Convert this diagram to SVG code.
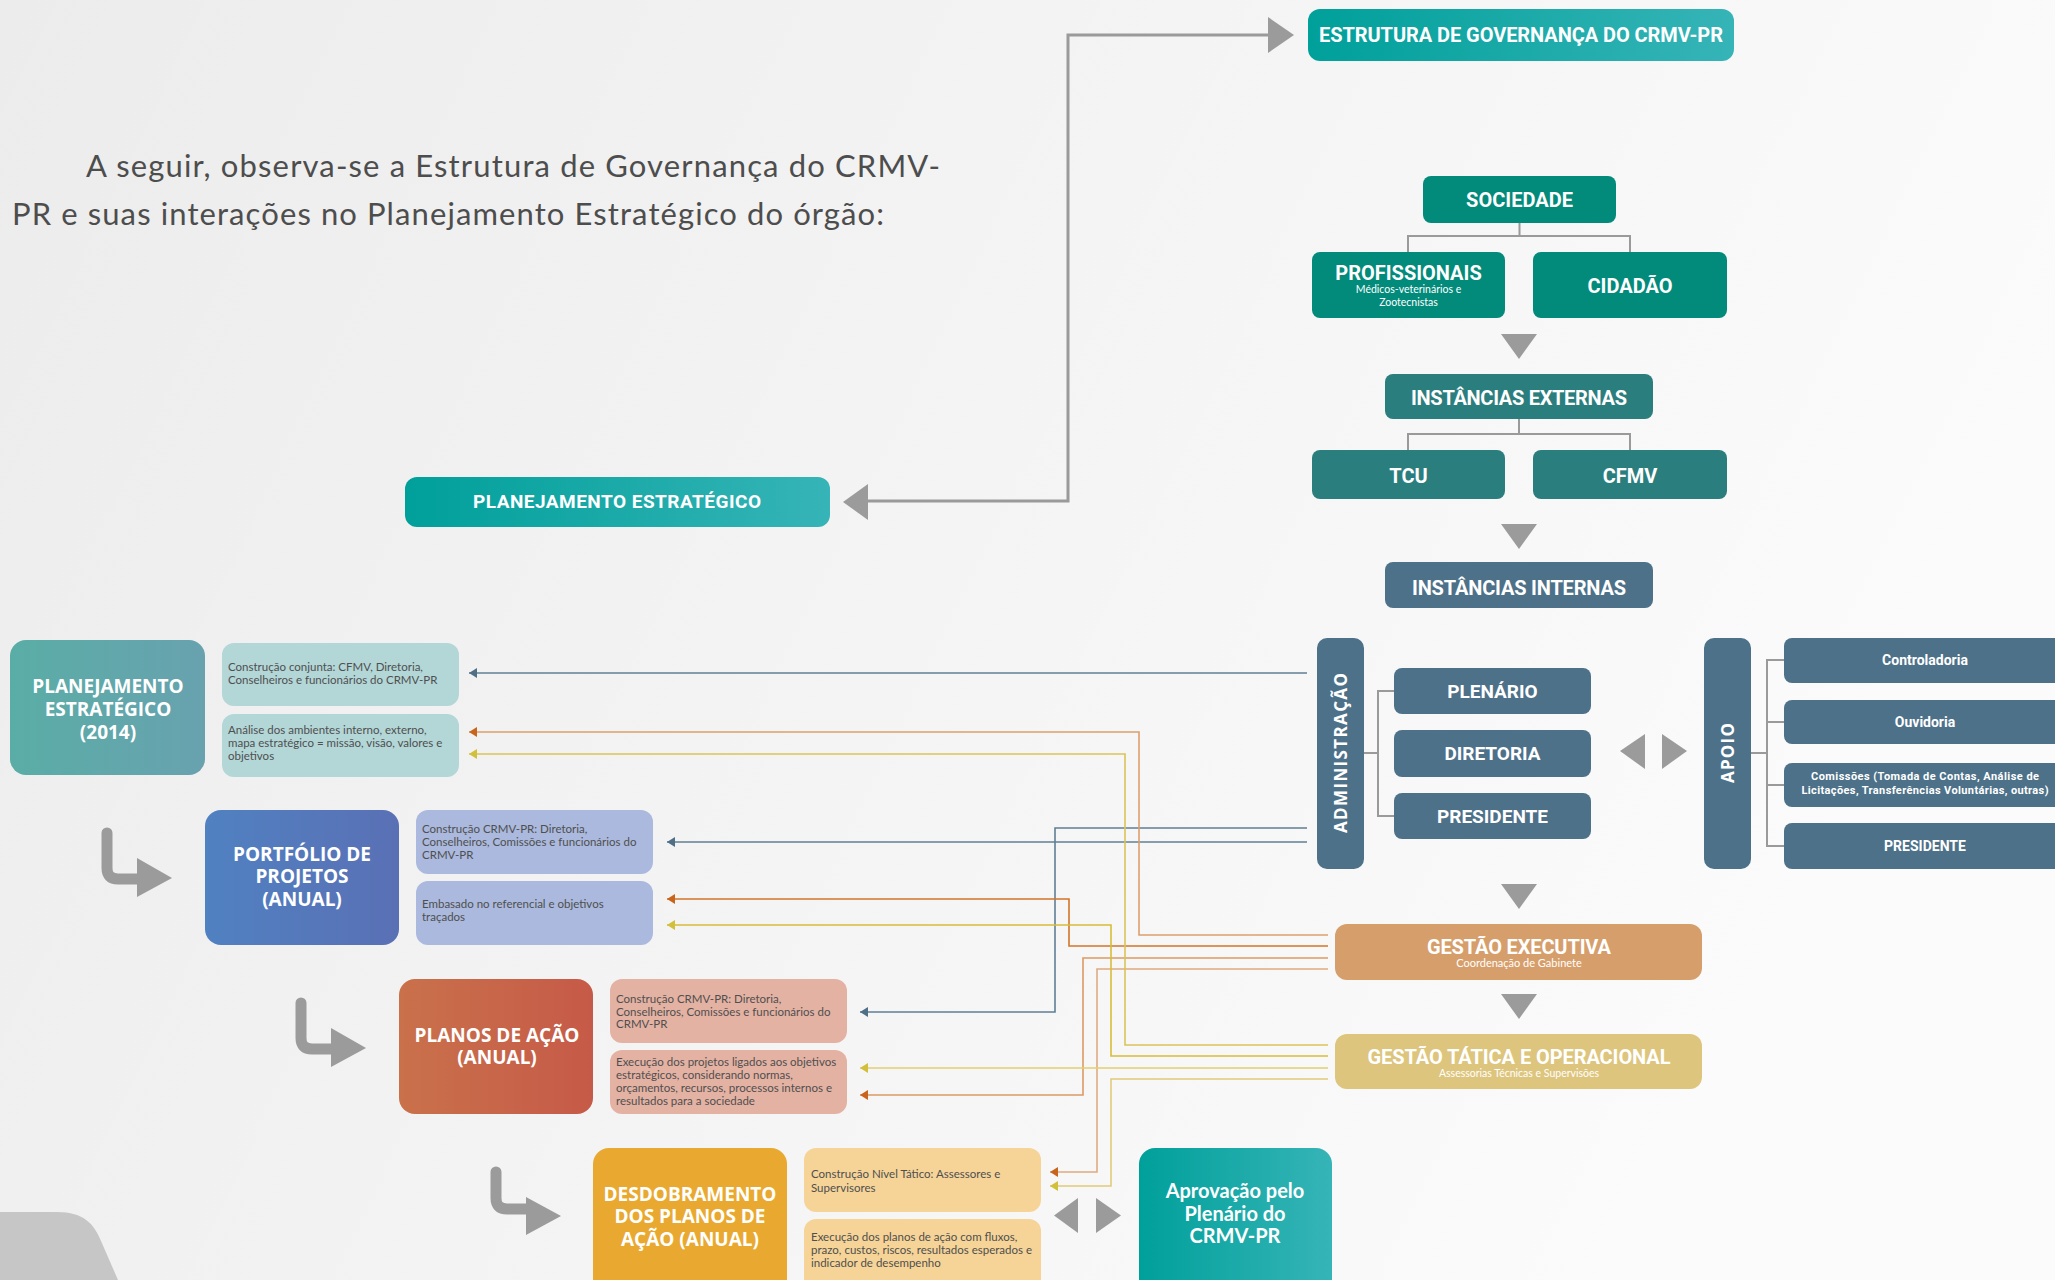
<svg xmlns="http://www.w3.org/2000/svg" width="2055" height="1280" viewBox="0 0 2055 1280">
<defs>
<linearGradient id="bg" x1="0" y1="0" x2="1" y2="0.3">
<stop offset="0" stop-color="#ececec"/><stop offset="0.6" stop-color="#f5f5f5"/><stop offset="1" stop-color="#fbfbfb"/>
</linearGradient>
<linearGradient id="gTeal" x1="0" y1="0" x2="1" y2="0"><stop offset="0" stop-color="#00a09a"/><stop offset="1" stop-color="#36b4b7"/></linearGradient>
<linearGradient id="gPlan" x1="0" y1="0" x2="1" y2="0"><stop offset="0" stop-color="#5aada6"/><stop offset="1" stop-color="#68a2af"/></linearGradient>
<linearGradient id="gPort" x1="0" y1="0" x2="1" y2="0"><stop offset="0" stop-color="#5081c1"/><stop offset="1" stop-color="#5a70b5"/></linearGradient>
<linearGradient id="gAcao" x1="0" y1="0" x2="1" y2="0"><stop offset="0" stop-color="#c9714b"/><stop offset="1" stop-color="#c65a48"/></linearGradient>
<marker id="mBlue" markerUnits="userSpaceOnUse" markerWidth="9" markerHeight="10" refX="8" refY="5" orient="auto"><path d="M0,0 L8,5 L0,10 z" fill="#4f6f86"/></marker>
<marker id="mOrange" markerUnits="userSpaceOnUse" markerWidth="9" markerHeight="10" refX="8" refY="5" orient="auto"><path d="M0,0 L8,5 L0,10 z" fill="#c8641c"/></marker>
<marker id="mYellow" markerUnits="userSpaceOnUse" markerWidth="9" markerHeight="10" refX="8" refY="5" orient="auto"><path d="M0,0 L8,5 L0,10 z" fill="#d2bf3a"/></marker>
<style>
.bold{font-family:Roboto,"Liberation Sans",sans-serif;font-weight:700;fill:#fff;text-anchor:middle}
.geo{font-family:"Open Sans","Liberation Sans",sans-serif;font-weight:700;fill:#fff;text-anchor:middle}
.lato{font-family:Lato,"Liberation Sans",sans-serif;font-weight:700;fill:#fff;text-anchor:middle}
.det{font-family:Lato,"Open Sans","Liberation Sans",sans-serif;font-size:11.5px;fill:#4f4f4f}
.sub{font-family:Lato,"Liberation Sans",sans-serif;fill:#fff;text-anchor:middle}
.intro{font-family:Lato,"Open Sans","Liberation Sans",sans-serif;font-weight:400;font-size:31px;fill:#4d4d4d}
.soc{fill:#028a7a}
.ext{fill:#2b7e7e}
.int{fill:#4d7189}
.tri{fill:#9b9b9b}
.brk{fill:none;stroke:#9a9a9a;stroke-width:2}
.icon{fill:none;stroke:#9b9b9b;stroke-width:11;stroke-linecap:round;stroke-linejoin:round}
.c{fill:none;stroke-width:1.6}
.cb{stroke:#5f7f95}
.co1{stroke:#dba06e}
.co2{stroke:#d2762a}
.co3{stroke:#dc9a64}
.co4{stroke:#e0ab80}
.cy1{stroke:#dbc358}
.cy2{stroke:#d6bd3a}
.cy3{stroke:#e3cf70}
.cy4{stroke:#e0cb7a}
</style>
</defs>

<rect x="0" y="0" width="2055" height="1280" fill="url(#bg)"/>
<path d="M0,1212 H57 C84,1212 94,1224 101,1241 L118,1280 H0 Z" fill="#c6c6c6"/>

<g id="intro">
<text x="86" y="177" class="intro" textLength="854">A seguir, observa-se a Estrutura de Governança do CRMV-</text>
<text x="12" y="225" class="intro" textLength="872">PR e suas interações no Planejamento Estratégico do órgão:</text>
</g>

<g id="link-governanca">
<path d="M1270,35 H1068 V501 H866" fill="none" stroke="#9a9a9a" stroke-width="3"/>
<polygon points="1268,17 1294,35 1268,53" class="tri"/>
<polygon points="868,484 843,502 868,520" class="tri"/>
</g>

<g id="estrutura">
<rect x="1308" y="9" width="426" height="52" rx="12" fill="url(#gTeal)"/>
<text x="1521" y="42" class="bold" font-size="20" textLength="404">ESTRUTURA DE GOVERNANÇA DO CRMV-PR</text>
</g>

<g id="planejamento-top">
<rect x="405" y="477" width="425" height="50" rx="12" fill="url(#gTeal)"/>
<text x="617" y="508" class="bold" font-size="19" textLength="288">PLANEJAMENTO ESTRATÉGICO</text>
</g>

<g id="sociedade">
<rect x="1423" y="176" width="193" height="47" rx="8" class="soc"/>
<text x="1519.5" y="207" class="bold" font-size="20">SOCIEDADE</text>
</g>
<g id="profissionais">
<rect x="1312" y="252" width="193" height="66" rx="8" class="soc"/>
<text x="1408.5" y="280" class="bold" font-size="20">PROFISSIONAIS</text>
<text x="1408.5" y="293" class="sub" font-size="10.5">Médicos-veterinários e</text>
<text x="1408.5" y="305.5" class="sub" font-size="10.5">Zootecnistas</text>
</g>
<g id="cidadao">
<rect x="1533" y="252" width="194" height="66" rx="8" class="soc"/>
<text x="1630" y="293" class="bold" font-size="20">CIDADÃO</text>
</g>
<g id="externas">
<rect x="1385" y="374" width="268" height="45" rx="8" class="ext"/>
<text x="1519" y="405" class="bold" font-size="20" textLength="216">INSTÂNCIAS EXTERNAS</text>
</g>
<g id="tcu">
<rect x="1312" y="450" width="193" height="49" rx="8" class="ext"/>
<text x="1408.5" y="483" class="bold" font-size="20">TCU</text>
</g>
<g id="cfmv">
<rect x="1533" y="450" width="194" height="49" rx="8" class="ext"/>
<text x="1630" y="483" class="bold" font-size="20">CFMV</text>
</g>
<g id="internas">
<rect x="1385" y="562" width="268" height="46" rx="8" class="int"/>
<text x="1519" y="595" class="bold" font-size="20" textLength="214">INSTÂNCIAS INTERNAS</text>
</g>

<g id="administracao">
<rect x="1317" y="638" width="47" height="231" rx="10" class="int"/>
<text transform="translate(1347,753) rotate(-90)" x="0" y="0" class="geo" font-size="17" textLength="160">ADMINISTRAÇÃO</text>
</g>
<g id="plenario">
<rect x="1394" y="668" width="197" height="46" rx="8" class="int"/>
<text x="1492.5" y="698" class="bold" font-size="19">PLENÁRIO</text>
</g>
<g id="diretoria">
<rect x="1394" y="730" width="197" height="47" rx="8" class="int"/>
<text x="1492.5" y="760" class="bold" font-size="19">DIRETORIA</text>
</g>
<g id="presidente-adm">
<rect x="1394" y="793" width="197" height="46" rx="8" class="int"/>
<text x="1492.5" y="823" class="bold" font-size="19">PRESIDENTE</text>
</g>

<g id="apoio">
<rect x="1704" y="638" width="47" height="231" rx="10" class="int"/>
<text transform="translate(1734,753) rotate(-90)" x="0" y="0" class="geo" font-size="17" textLength="60">APOIO</text>
</g>
<g id="controladoria">
<rect x="1784" y="638" width="282" height="45" rx="8" class="int"/>
<text x="1925" y="665" class="bold" font-size="14">Controladoria</text>
</g>
<g id="ouvidoria">
<rect x="1784" y="700" width="282" height="44" rx="8" class="int"/>
<text x="1925" y="727" class="bold" font-size="14">Ouvidoria</text>
</g>
<g id="comissoes">
<rect x="1784" y="763" width="282" height="44" rx="8" class="int"/>
<text x="1925" y="780" class="bold" font-size="11" textLength="228">Comissões (Tomada de Contas, Análise de</text>
<text x="1925" y="794" class="bold" font-size="11" textLength="247">Licitações, Transferências Voluntárias, outras)</text>
</g>
<g id="presidente-apoio">
<rect x="1784" y="823" width="282" height="46" rx="8" class="int"/>
<text x="1925" y="851" class="bold" font-size="14">PRESIDENTE</text>
</g>

<g id="gestao-executiva">
<rect x="1335" y="924" width="367" height="56" rx="12" fill="#d69e6a"/>
<text x="1519" y="954" class="bold" font-size="20" textLength="184">GESTÃO EXECUTIVA</text>
<text x="1519" y="967" class="sub" font-size="11">Coordenação de Gabinete</text>
</g>
<g id="gestao-tatica">
<rect x="1335" y="1034" width="367" height="55" rx="12" fill="#ddc57d"/>
<text x="1519" y="1064" class="bold" font-size="20" textLength="303">GESTÃO TÁTICA E OPERACIONAL</text>
<text x="1519" y="1077" class="sub" font-size="10.5">Assessorias Técnicas e Supervisões</text>
</g>

<g id="planejamento-2014">
<rect x="10" y="640" width="195" height="135" rx="16" fill="url(#gPlan)"/>
<text x="108" y="693" class="geo" font-size="19">PLANEJAMENTO</text>
<text x="108" y="716" class="geo" font-size="19">ESTRATÉGICO</text>
<text x="108" y="739" class="geo" font-size="19">(2014)</text>
</g>
<g id="plan-det1">
<rect x="222" y="643" width="237" height="63" rx="12" fill="#b3d6d7"/>
<text class="det"><tspan x="228" y="671">Construção conjunta: CFMV, Diretoria,</tspan><tspan x="228" y="683.5">Conselheiros e funcionários do CRMV-PR</tspan></text>
</g>
<g id="plan-det2">
<rect x="222" y="714" width="237" height="63" rx="12" fill="#b3d6d7"/>
<text class="det"><tspan x="228" y="734">Análise dos ambientes interno, externo,</tspan><tspan x="228" y="747">mapa estratégico = missão, visão, valores e</tspan><tspan x="228" y="760">objetivos</tspan></text>
</g>

<g id="portfolio">
<rect x="205" y="810" width="194" height="135" rx="16" fill="url(#gPort)"/>
<text x="302" y="861" class="geo" font-size="19">PORTFÓLIO DE</text>
<text x="302" y="883" class="geo" font-size="19">PROJETOS</text>
<text x="302" y="906" class="geo" font-size="19">(ANUAL)</text>
</g>
<g id="port-det1">
<rect x="416" y="810" width="237" height="64" rx="12" fill="#aab9dd"/>
<text class="det"><tspan x="422" y="833">Construção CRMV-PR: Diretoria,</tspan><tspan x="422" y="846">Conselheiros, Comissões e funcionários do</tspan><tspan x="422" y="859">CRMV-PR</tspan></text>
</g>
<g id="port-det2">
<rect x="416" y="881" width="237" height="64" rx="12" fill="#aab9dd"/>
<text class="det"><tspan x="422" y="908">Embasado no referencial e objetivos</tspan><tspan x="422" y="921">traçados</tspan></text>
</g>

<g id="planos">
<rect x="399" y="979" width="194" height="135" rx="16" fill="url(#gAcao)"/>
<text x="497" y="1042" class="geo" font-size="19">PLANOS DE AÇÃO</text>
<text x="497" y="1064" class="geo" font-size="19">(ANUAL)</text>
</g>
<g id="planos-det1">
<rect x="610" y="979" width="237" height="64" rx="12" fill="#e4b2a3"/>
<text class="det"><tspan x="616" y="1003">Construção CRMV-PR: Diretoria,</tspan><tspan x="616" y="1016">Conselheiros, Comissões e funcionários do</tspan><tspan x="616" y="1028">CRMV-PR</tspan></text>
</g>
<g id="planos-det2">
<rect x="610" y="1050" width="237" height="64" rx="12" fill="#e4b2a3"/>
<text class="det"><tspan x="616" y="1066">Execução dos projetos ligados aos objetivos</tspan><tspan x="616" y="1079">estratégicos, considerando normas,</tspan><tspan x="616" y="1092">orçamentos, recursos, processos internos e</tspan><tspan x="616" y="1104.5">resultados para a sociedade</tspan></text>
</g>

<g id="desdobramento">
<rect x="593" y="1148" width="194" height="150" rx="16" fill="#e9a930"/>
<text x="690" y="1201" class="geo" font-size="19">DESDOBRAMENTO</text>
<text x="690" y="1223" class="geo" font-size="19">DOS PLANOS DE</text>
<text x="690" y="1246" class="geo" font-size="19">AÇÃO (ANUAL)</text>
</g>
<g id="desd-det1">
<rect x="804" y="1148" width="237" height="64" rx="12" fill="#f6d497"/>
<text class="det"><tspan x="811" y="1178">Construção Nível Tático: Assessores e</tspan><tspan x="811" y="1192">Supervisores</tspan></text>
</g>
<g id="desd-det2">
<rect x="804" y="1219" width="237" height="75" rx="12" fill="#f6d497"/>
<text class="det"><tspan x="811" y="1241">Execução dos planos de ação com fluxos,</tspan><tspan x="811" y="1254">prazo, custos, riscos, resultados esperados e</tspan><tspan x="811" y="1267">indicador de desempenho</tspan></text>
</g>

<g id="aprovacao">
<rect x="1139" y="1148" width="193" height="150" rx="16" fill="url(#gTeal)"/>
<text x="1235" y="1198" class="lato" font-size="20">Aprovação pelo</text>
<text x="1235" y="1221" class="lato" font-size="20">Plenário do</text>
<text x="1235" y="1243" class="lato" font-size="20">CRMV-PR</text>
</g>

<g id="flow-icons">
<path class="icon" d="M107,833 V868 Q107,879 118,879 H140"/>
<polygon class="tri" points="137,858 172,878 137,897"/>
<path class="icon" d="M301,1003 V1038 Q301,1049 312,1049 H334"/>
<polygon class="tri" points="331,1028 366,1048 331,1067"/>
<path class="icon" d="M496,1172 V1198 Q496,1209 507,1209 H529"/>
<polygon class="tri" points="526,1197 561,1216 526,1235"/>
</g>

<g id="structure-links">
<path class="brk" d="M1519.5,223 V236 M1408,252 V236 H1630 V252"/>
<polygon class="tri" points="1501,334 1537,334 1519,359"/>
<path class="brk" d="M1519,419 V434 M1408,450 V434 H1630 V450"/>
<polygon class="tri" points="1501,524 1537,524 1519,549"/>
<path class="brk" d="M1364,753 H1378 M1394,691 H1378 V816 H1394"/>
<path class="brk" d="M1751,753 H1767 M1784,660 H1767 V846 H1784 M1767,722 H1784 M1767,785 H1784"/>
<polygon class="tri" points="1645,734 1620,751 1645,769"/>
<polygon class="tri" points="1662,734 1687,751 1662,769"/>
<polygon class="tri" points="1501,884 1537,884 1519,909"/>
<polygon class="tri" points="1501,994 1537,994 1519,1019"/>
<polygon class="tri" points="1078,1198 1054,1215.5 1078,1233"/>
<polygon class="tri" points="1096,1198 1121,1215.5 1096,1233"/>
</g>

<g id="connectors">
<polyline class="c cb" points="1307,673 469,673" marker-end="url(#mBlue)"/>
<polyline class="c cb" points="1307,842 667,842" marker-end="url(#mBlue)"/>
<polyline class="c cb" points="1307,828 1055,828 1055,1012 860,1012" marker-end="url(#mBlue)"/>
<polyline class="c co1" points="1328,935 1139,935 1139,732 469,732" marker-end="url(#mOrange)"/>
<polyline class="c co2" points="1328,946 1069,946 1069,899 667,899" marker-end="url(#mOrange)"/>
<polyline class="c co3" points="1328,958 1083,958 1083,1095 860,1095" marker-end="url(#mOrange)"/>
<polyline class="c co4" points="1328,969 1097,969 1097,1172 1050,1172" marker-end="url(#mOrange)"/>
<polyline class="c cy1" points="1328,1045 1125,1045 1125,754 469,754" marker-end="url(#mYellow)"/>
<polyline class="c cy2" points="1328,1056 1111,1056 1111,925 667,925" marker-end="url(#mYellow)"/>
<polyline class="c cy3" points="1328,1068 860,1068" marker-end="url(#mYellow)"/>
<polyline class="c cy4" points="1328,1079 1111,1079 1111,1186 1050,1186" marker-end="url(#mYellow)"/>
</g>
</svg>
